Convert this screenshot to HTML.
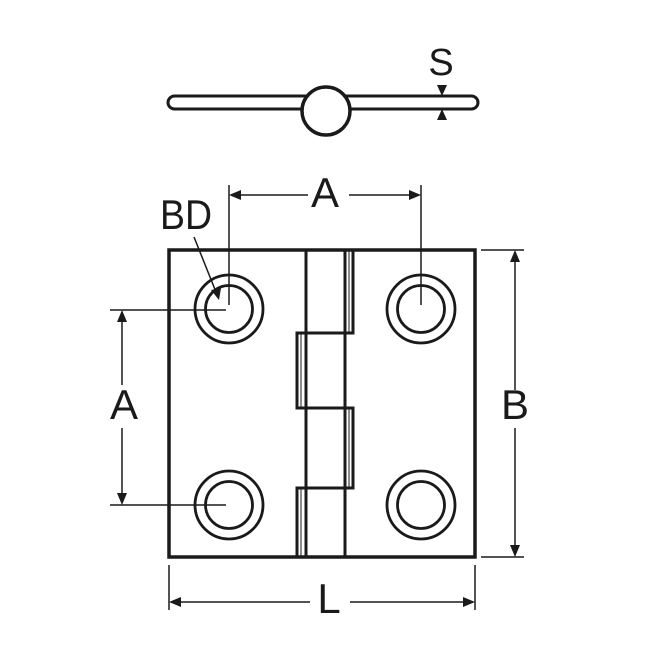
<!DOCTYPE html>
<html><head><style>html,body{margin:0;padding:0;background:#fff}svg{display:block}</style></head>
<body>
<svg width="665" height="665" viewBox="0 0 665 665" xmlns="http://www.w3.org/2000/svg">
<g fill="none" stroke="#1a1a1a">
 <!-- side view -->
 <rect x="168" y="96" width="310" height="13" rx="6.5" stroke-width="3"/>
 <circle cx="326" cy="111" r="24" fill="#fff" stroke-width="3.5"/>
 <!-- main body -->
 <rect x="169" y="250" width="306" height="307" stroke-width="3.5"/>
 <line x1="306" y1="250" x2="306" y2="557" stroke-width="3"/>
 <line x1="345" y1="250" x2="345" y2="557" stroke-width="3"/>
 <!-- knuckles -->
 <path d="M345 250 V333 H353 V250" stroke-width="3"/>
 <path d="M353 333 H297 V408 H353 V488 H297 V557" stroke-width="3"/>
 <path d="M345 408 H353 V488" stroke-width="3"/>
 <path d="M301 333 V408 M301 488 V557 M349 408 V488 M349 250 V333" stroke-width="1"/>
 <!-- holes -->
 <g stroke-width="2.8">
  <circle cx="229" cy="309" r="34"/><circle cx="229" cy="309" r="23.5"/>
  <circle cx="421" cy="309" r="34"/><circle cx="421" cy="309" r="23.5"/>
  <circle cx="229" cy="505" r="34"/><circle cx="229" cy="505" r="23.5"/>
  <circle cx="421" cy="505" r="34"/><circle cx="421" cy="505" r="23.5"/>
 </g>
 <!-- dimension lines -->
 <g stroke-width="1.5">
  <line x1="229" y1="185" x2="229" y2="305"/>
  <line x1="421" y1="185" x2="421" y2="305"/>
  <line x1="240" y1="195" x2="308" y2="195"/>
  <line x1="349" y1="195" x2="410" y2="195"/>
  <line x1="110" y1="310" x2="226" y2="310"/>
  <line x1="110" y1="505" x2="226" y2="505"/>
  <line x1="122" y1="320" x2="122" y2="385"/>
  <line x1="122" y1="428" x2="122" y2="495"/>
  <line x1="481" y1="250" x2="524" y2="250"/>
  <line x1="481" y1="557" x2="524" y2="557"/>
  <line x1="515" y1="262" x2="515" y2="390"/>
  <line x1="515" y1="428" x2="515" y2="545"/>
  <line x1="169" y1="565" x2="169" y2="610"/>
  <line x1="475" y1="565" x2="475" y2="610"/>
  <line x1="180" y1="602" x2="310" y2="602"/>
  <line x1="350" y1="602" x2="464" y2="602"/>
  <line x1="194" y1="237" x2="216" y2="292"/>
 </g>
</g>
<g fill="#1a1a1a">
 <polygon points="229,195 241,190 241,200"/>
 <polygon points="421,195 409,190 409,200"/>
 <polygon points="122,310 117,322 127,322"/>
 <polygon points="122,505 117,493 127,493"/>
 <polygon points="515,250 510,262 520,262"/>
 <polygon points="515,557 510,545 520,545"/>
 <polygon points="169,602 181,597 181,607"/>
 <polygon points="475,602 463,597 463,607"/>
 <polygon points="219,300 211,290 221,288"/>
 <polygon points="442,96 437,85 447,85"/>
 <polygon points="442,109 437,120 447,120"/>
</g>
<g font-family="Liberation Sans, sans-serif" fill="#1a1a1a" text-anchor="middle">
 <text x="441" y="75" font-size="38">S</text>
 <text x="325" y="207" font-size="42">A</text>
 <text x="186" y="229" font-size="42" textLength="52" lengthAdjust="spacingAndGlyphs">BD</text>
 <text x="124" y="419" font-size="42">A</text>
 <text x="515" y="419" font-size="42">B</text>
 <text x="329" y="613" font-size="42">L</text>
</g>
</svg>
</body></html>
